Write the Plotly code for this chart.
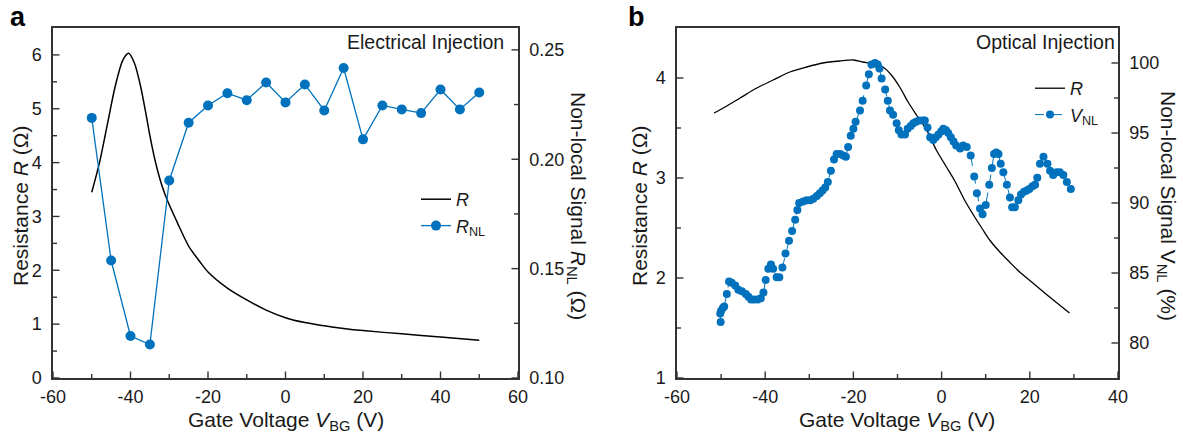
import plotly.graph_objects as go

W, H = 1183, 438
FONT = "Liberation Sans, Arial, sans-serif"
BLUE = "#0072BD"
AXC = "#333333"

# ---------------- panel a : electrical injection ----------------
ra_gate = [-50, -48, -46, -44, -42, -40.5, -39, -37.5, -36, -35, -34, -33, -32, -30.5,
           -28, -25, -22, -20, -15, -10, -5, 0, 5, 10, 15, 20, 30, 40, 50]
ra_res = [3.45, 4.0, 4.7, 5.4, 5.9, 6.03, 5.85, 5.45, 4.9, 4.5, 4.15, 3.85, 3.6, 3.3,
          2.9, 2.45, 2.15, 1.97, 1.67, 1.45, 1.26, 1.12, 1.03, 0.97, 0.92, 0.88, 0.82,
          0.76, 0.70]

rnl_gate = [-50, -45, -40, -35, -30, -25, -20, -15, -10, -5, 0, 5, 10, 15, 20, 25, 30,
            35, 40, 45, 50]
rnl_val = [0.2189, 0.1537, 0.1192, 0.1153, 0.1903, 0.2167, 0.2246, 0.2302, 0.2270,
           0.2351, 0.2260, 0.2342, 0.2223, 0.2417, 0.2091, 0.2246, 0.2228, 0.2211,
           0.2319, 0.2228, 0.2305]

xa_ticks = [-60, -40, -20, 0, 20, 40, 60]
xa_labels = ["-60", "-40", "-20", "0", "20", "40", "60"]
ya_ticks = [0, 1, 2, 3, 4, 5, 6]
ya2_ticks = [0.10, 0.15, 0.20, 0.25]

# ---------------- panel b : optical injection ----------------
rb_gate = [-51.6, -49.5, -45.7, -41.9, -38.2, -34.4, -30.6, -26.9, -23.1, -20.0, -17.8,
           -15.5, -13.3, -11.4, -9.5, -7.6, -5.7, -3.4, -1.2, 1.1, 3.0, 5.2, 7.5, 9.4,
           10.9, 13.2, 15.4, 17.7, 20.7, 24.5, 29.0]
rb_res = [3.65, 3.70, 3.80, 3.90, 3.98, 4.06, 4.11, 4.15, 4.17, 4.18, 4.16, 4.14, 4.11,
          4.03, 3.91, 3.76, 3.63, 3.48, 3.28, 3.11, 2.97, 2.78, 2.61, 2.48, 2.38, 2.26,
          2.16, 2.06, 1.95, 1.81, 1.65]

vnl_gate = [-50.1, -50.2, -50.0, -49.6, -49.3, -48.7, -48.2, -47.6, -46.8, -46.1, -45.3,
            -44.4, -43.8, -43.2, -42.5, -41.7, -41.0, -40.4, -39.9, -39.3, -38.7, -38.2,
            -37.4, -36.8, -36.1, -35.4, -34.6, -33.9, -33.2, -32.7, -32.3, -31.4, -30.6,
            -29.8, -29.1, -28.3, -27.6, -27.0, -26.4, -25.8, -25.1, -24.4, -23.8, -23.0,
            -22.3, -21.7, -21.2, -20.6, -20.0, -19.5, -18.5, -17.9, -17.1, -16.5, -15.9,
            -15.1, -14.5, -14.1, -13.6, -12.8, -12.2, -11.7, -11.0, -10.2, -9.7, -9.1,
            -8.3, -7.7, -7.0, -6.4, -5.8, -5.1, -4.3, -3.8, -3.2, -2.6, -1.9, -1.3, -0.7,
            -0.1, 0.4, 1.0, 1.5, 2.1, 2.7, 3.3, 4.2, 4.9, 5.7, 6.6, 7.4, 8.0, 8.7, 9.3,
            10.0, 10.8, 11.4, 11.9, 12.4, 12.9, 13.4, 14.0, 14.8, 15.5, 16.0, 16.6, 17.4,
            18.0, 18.7, 19.3, 19.9, 20.6, 21.2, 21.7, 22.3, 23.1, 24.0, 24.6, 25.3, 26.1,
            26.8, 27.6, 28.4, 29.3]
vnl_val = [81.5, 82.1, 82.3, 82.5, 82.6, 83.5, 84.4, 84.3, 84.1, 83.8, 83.7,
           83.5, 83.3, 83.1, 83.1, 83.1, 83.2, 83.6, 84.5, 85.3, 85.6, 85.3,
           84.7, 84.7, 85.4, 86.4, 87.3, 88.0, 88.8, 89.5, 90.0, 90.1, 90.2,
           90.2, 90.3, 90.5, 90.7, 90.9, 91.1, 91.5, 92.3, 93.1, 93.5, 93.5,
           93.4, 93.3, 94.0, 94.8, 95.3, 95.8, 96.6, 97.3, 98.4, 99.2, 99.9,
           100.0, 99.9, 99.6, 98.9, 98.1, 97.3, 96.6, 96.3, 95.7, 95.2, 94.9,
           94.9, 95.3, 95.5, 95.7, 95.8, 95.9, 95.9, 95.9, 95.4, 94.7, 94.5, 94.7, 94.9,
           95.1, 95.3, 95.2, 95.0, 94.7, 94.4, 94.1, 93.9, 94.1, 94.0, 93.4, 91.9, 90.7, 89.6, 89.2,
           89.85, 91.3, 92.5, 93.5, 93.6, 93.5, 92.8, 92.2, 91.3, 90.4, 89.7, 89.7, 90.2,
           90.6, 90.8, 90.9, 91.0, 91.2, 91.3, 91.8, 92.8, 93.3, 92.8, 92.3, 92.0, 92.2,
           92.2, 92.0, 91.5, 91.0]

xb_ticks = [-60, -40, -20, 0, 20, 40]
xb_labels = ["-60", "-40", "-20", "0", "20", "40"]
yb_ticks = [1, 2, 3, 4]
yb2_ticks = [80, 85, 90, 95, 100]

# axis ranges
XA_RANGE, YA_RANGE, YA2_RANGE = [-60, 60], [0, 6.5], [0.10, 0.26]
XB_RANGE, YB_RANGE, YB2_RANGE = [-60, 40], [1, 4.5], [77.5, 102.5]

# plot-area edges in page pixels
A_LEFT, A_RIGHT, B_LEFT, B_RIGHT, TOP, BOTTOM = 53, 518, 677, 1118, 28, 378
MAJOR_LEN, MINOR_LEN = 6.5, 4


def px_x(x):
    return x / W


def px_y(y):
    return 1 - y / H


XA_DOM = [px_x(A_LEFT), px_x(A_RIGHT)]
XB_DOM = [px_x(B_LEFT), px_x(B_RIGHT)]
YDOM = [px_y(BOTTOM), px_y(TOP)]

fig = go.Figure()

fig.add_trace(go.Scatter(x=ra_gate, y=ra_res, mode="lines", name="<i>R</i>",
                         line=dict(color="black", width=1.5, shape="spline", smoothing=0.8),
                         xaxis="x", yaxis="y", legend="legend"))
fig.add_trace(go.Scatter(x=rnl_gate, y=rnl_val, mode="lines+markers",
                         name="<i>R</i><sub>NL</sub>",
                         line=dict(color=BLUE, width=1.3),
                         marker=dict(color=BLUE, size=10),
                         xaxis="x", yaxis="y2", legend="legend"))
fig.add_trace(go.Scatter(x=rb_gate, y=rb_res, mode="lines", name="<i>R</i>",
                         line=dict(color="black", width=1.3, shape="spline", smoothing=0.8),
                         xaxis="x2", yaxis="y3", legend="legend2"))
fig.add_trace(go.Scatter(x=vnl_gate, y=vnl_val, mode="lines+markers",
                         name="<i>V</i><sub>NL</sub>",
                         line=dict(color=BLUE, width=1, dash="dash"),
                         marker=dict(color=BLUE, size=8),
                         xaxis="x2", yaxis="y4", legend="legend2"))


def midpoints(vals):
    return [(a + b) / 2 for a, b in zip(vals[:-1], vals[1:])]


def units_per_px(rng, px_span):
    return (rng[1] - rng[0]) / px_span


def add_x_ticks(xa, ya, majors, y_rng):
    """Inward tick marks rising from the bottom axis line."""
    k = units_per_px(y_rng, BOTTOM - TOP)
    xs, ys = [], []
    for vals, ln in ((majors, MAJOR_LEN), (midpoints(majors), MINOR_LEN)):
        for v in vals:
            xs += [v, v, None]
            ys += [y_rng[0], y_rng[0] + ln * k, None]
    fig.add_trace(go.Scatter(x=xs, y=ys, mode="lines", showlegend=False,
                             hoverinfo="skip", line=dict(color=AXC, width=1.4),
                             cliponaxis=False, xaxis=xa, yaxis=ya))


def add_y_ticks(xa, ya, majors, x_rng, x_span, at_left):
    """Inward tick marks from a vertical axis line."""
    k = units_per_px(x_rng, x_span)
    edge = x_rng[0] if at_left else x_rng[1]
    sign = 1 if at_left else -1
    xs, ys = [], []
    for vals, ln in ((majors, MAJOR_LEN), (midpoints(majors), MINOR_LEN)):
        for v in vals:
            xs += [edge, edge + sign * ln * k, None]
            ys += [v, v, None]
    fig.add_trace(go.Scatter(x=xs, y=ys, mode="lines", showlegend=False,
                             hoverinfo="skip", line=dict(color=AXC, width=1.4),
                             cliponaxis=False, xaxis=xa, yaxis=ya))


add_x_ticks("x", "y", xa_ticks, YA_RANGE)
add_y_ticks("x", "y", ya_ticks, XA_RANGE, A_RIGHT - A_LEFT, True)
add_y_ticks("x", "y2", ya2_ticks, XA_RANGE, A_RIGHT - A_LEFT, False)
add_x_ticks("x2", "y3", xb_ticks, YB_RANGE)
add_y_ticks("x2", "y3", yb_ticks, XB_RANGE, B_RIGHT - B_LEFT, True)
add_y_ticks("x2", "y4", yb2_ticks, XB_RANGE, B_RIGHT - B_LEFT, False)

tickfont = dict(family=FONT, size=18, color="#1a1a1a")


def label_axis(**kw):
    d = dict(ticks="", showline=True, linecolor=AXC, linewidth=1.5, showgrid=False,
             zeroline=False, tickfont=tickfont, automargin=False)
    d.update(kw)
    return d


fig.update_layout(
    template="simple_white",
    width=W, height=H,
    margin=dict(l=0, r=0, t=0, b=0, autoexpand=False),
    paper_bgcolor="white", plot_bgcolor="rgba(0,0,0,0)",
    font=dict(family=FONT, size=18, color="#1a1a1a"),
    xaxis=label_axis(domain=XA_DOM, range=XA_RANGE, tickmode="array", tickvals=xa_ticks,
                     ticktext=xa_labels, mirror=True, ticklabelstandoff=2),
    yaxis=label_axis(domain=YDOM, range=YA_RANGE, tickmode="array", tickvals=ya_ticks,
                     anchor="x", ticklabelstandoff=6),
    yaxis2=label_axis(range=YA2_RANGE, tickmode="array", tickvals=ya2_ticks,
                      tickformat=".2f", side="right", anchor="x", overlaying="y",
                      ticklabelstandoff=6),
    xaxis2=label_axis(domain=XB_DOM, range=XB_RANGE, tickmode="array", tickvals=xb_ticks,
                      ticktext=xb_labels, mirror=True, ticklabelstandoff=2),
    yaxis3=label_axis(domain=YDOM, range=YB_RANGE, tickmode="array", tickvals=yb_ticks,
                      anchor="x2", ticklabelstandoff=6),
    yaxis4=label_axis(range=YB2_RANGE, tickmode="array", tickvals=yb2_ticks,
                      side="right", anchor="x2", overlaying="y3", ticklabelstandoff=6),
    legend=dict(x=px_x(416), y=px_y(181), xanchor="left", yanchor="top",
                bgcolor="rgba(0,0,0,0)", font=dict(family=FONT, size=18, color="#1a1a1a"),
                tracegroupgap=0, itemwidth=30),
    legend2=dict(x=px_x(1030), y=px_y(70), xanchor="left", yanchor="top",
                 bgcolor="rgba(0,0,0,0)", font=dict(family=FONT, size=18, color="#1a1a1a"),
                 tracegroupgap=0, itemwidth=30),
    showlegend=True,
)

title_font = dict(family=FONT, size=21, color="#1a1a1a")
ann = []


def add_text(text, x, y, xanchor="center", yanchor="middle", angle=0, font=title_font):
    ann.append(dict(text=text, x=px_x(x), y=px_y(y), xref="paper", yref="paper",
                    xanchor=xanchor, yanchor=yanchor, textangle=angle, showarrow=False,
                    font=font))


label_font = dict(family=FONT, size=27, color="black", weight="bold")
add_text("<b>a</b>", 8, 17, xanchor="left", font=label_font)
add_text("<b>b</b>", 626, 17, xanchor="left", font=label_font)

inj_font = dict(family=FONT, size=19.5, color="#1a1a1a")
add_text("Electrical Injection", 506, 42, xanchor="right", font=inj_font)
add_text("Optical Injection", 1117, 42, xanchor="right", font=inj_font)

add_text("Gate Voltage <i>V</i><sub>BG</sub> (V)", 286, 421)
add_text("Gate Voltage <i>V</i><sub>BG</sub> (V)", 897, 421)
add_text("Resistance <i>R</i> (Ω)", 20, 206, angle=-90)
add_text("Resistance <i>R</i> (Ω)", 639, 206, angle=-90)
add_text("Non-local Signal <i>R</i><sub>NL</sub> (Ω)", 577, 206, angle=90)
add_text("Non-local Signal V<sub>NL</sub> (%)", 1167, 206, angle=90)

fig.update_layout(annotations=ann)

fig.write_html("out.html")
